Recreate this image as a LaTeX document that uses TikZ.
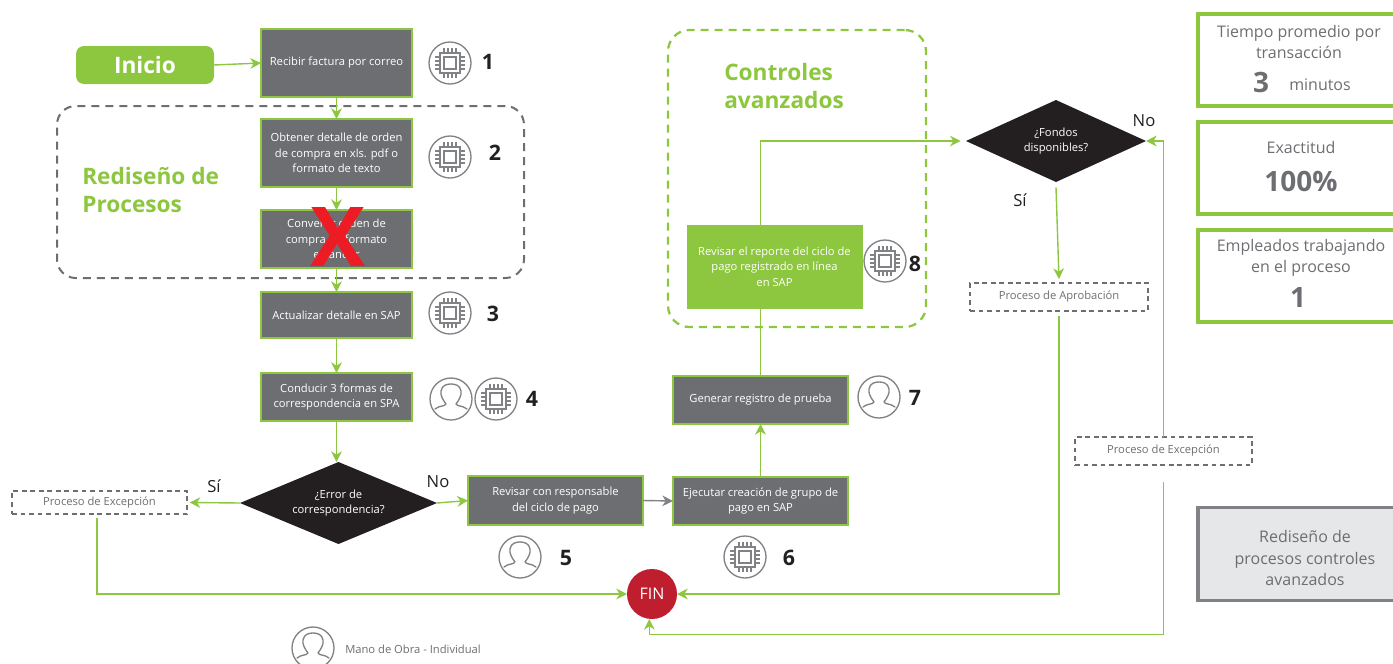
\documentclass[tikz,border=0pt]{standalone}
\usepackage{fontspec}
\setmainfont{Open Sans}
\usetikzlibrary{arrows.meta,shapes.geometric,calc}
\definecolor{lime}{HTML}{8DC63F}
\definecolor{slate}{HTML}{6D6E71}
\definecolor{ink}{HTML}{231F20}
\definecolor{dashgray}{HTML}{6D6E71}
\definecolor{iconstroke}{HTML}{808285}
\definecolor{softgray}{HTML}{E6E7E8}
\definecolor{FINred}{HTML}{BE1E2D}
\definecolor{crossred}{HTML}{ED1C24}
\newcommand{\fsz}[1]{\fontsize{#1}{#1}\selectfont}
\newcommand{\fszB}[2]{\fontsize{#1}{#2}\selectfont}
\tikzset{
  wh/.style 2 args={minimum width=#1*0.75pt,minimum height=#2*0.75pt,inner sep=0pt,outer sep=0pt},
  procbox/.style={rectangle,draw=lime,line width=2.2pt,fill=slate,text=white,align=center,font=\fszB{8.4}{11.6}},
  decision/.style={diamond,fill=ink,text=white,align=center,font=\fszB{8.4}{11.6},aspect=2.2,inner sep=0pt,outer sep=0pt},
  dashbox/.style={rectangle,draw=dashgray,line width=1.5pt,dash pattern=on 3.6pt off 2.8pt,text=slate,align=center,font=\fsz{8.4}},
  statbox/.style={rectangle,draw=lime,line width=2.6pt,text=slate,align=center},
  flow/.style={draw=lime,line width=1.05pt,-{Stealth[length=8pt,width=8pt,inset=2.5pt]}},
  plainflow/.style={draw=lime,line width=1.05pt},
  stepnum/.style={font=\fsz{16}\bfseries,text=ink,inner sep=0pt},
  answer/.style={font=\fsz{12.5},text=ink,inner sep=0pt},
  headline/.style={font=\fszB{17}{21}\bfseries,text=lime,align=left,inner sep=0pt},
  icondisc/.style={circle,draw=iconstroke,line width=1pt,fill=white,minimum size=31.5pt,inner sep=0pt},
  iconline/.style={draw=iconstroke,line width=0.8pt},
  chipicon/.pic={
    \node[icondisc] (-disc) at (0,0) {};
    \draw[iconline] (-10,-10) rectangle (10,10);
    \draw[iconline] (-6,-6) rectangle (6,6);
    \foreach \t in {-6,-2,2,6}{
      \draw[iconline] (\t,-10) -- (\t,-15);
      \draw[iconline] (\t,10) -- (\t,15);
      \draw[iconline] (-10,\t) -- (-15,\t);
      \draw[iconline] (10,\t) -- (15,\t);
    }
  },
  personicon/.pic={
    \node[icondisc] (-disc) at (0,0) {};
    \draw[iconline,line width=1pt,line cap=round,line join=round]
      (-16,10) .. controls (-11,6) and (-7,8) .. (-5,5)
      .. controls (-8,1) and (-11,-4) .. (-10,-8)
      .. controls (-9,-14) and (-4,-15) .. (0,-15)
      .. controls (4,-15) and (9,-14) .. (10,-8)
      .. controls (11,-4) and (8,1) .. (5,5)
      .. controls (7,8) and (11,6) .. (16,10);
  }
}
\begin{document}
\begin{tikzpicture}[x=0.75pt,y=-0.75pt]
\useasboundingbox (0,0) rectangle (1393,664);

% dashed regions
\node[rectangle,rounded corners=14pt,draw=dashgray,line width=1.5pt,dash pattern=on 6pt off 4.5pt,wh={467}{172}] (redesign) at (290.5,192) {};
\node[rectangle,rounded corners=16pt,draw=lime,line width=1.7pt,dash pattern=on 6pt off 4.5pt,wh={258}{297}] (controls) at (797,178.5) {};
\node[headline,anchor=north west] (redesigntext) at (82,167) {Rediseño de\\Procesos};
\node[headline,anchor=north west] (controlstext) at (724,63) {Controles\\avanzados};

% start
\node[rectangle,rounded corners=6pt,fill=lime,text=white,font=\fsz{17}\bfseries,wh={138}{38}] (start) at (145,65) {Inicio};

% left column
\node[procbox,wh={151}{68}] (recibir) at (336.5,63) {Recibir factura por correo};
\node[procbox,wh={151}{68}] (obtener) at (336.5,153) {Obtener detalle de orden\\de compra en xls. pdf o\\formato de texto};
\node[procbox,wh={151}{58}] (convertir) at (336.5,239) {Convertir orden de\\compra en formato\\estándar};
\node[procbox,wh={151}{46}] (actualizar) at (336.5,315) {Actualizar detalle en SAP};
\node[procbox,wh={151}{48}] (conducir) at (336.5,397) {Conducir 3 formas de\\correspondencia en SPA};
\node[decision,wh={197}{82}] (errordec) at (338.5,503) {¿Error de\\correspondencia?};
\node[dashbox,wh={175}{23}] (excleft) at (99.5,502.5) {Proceso de Excepción};

% bottom row
\node[procbox,wh={175}{49}] (revisar) at (555.5,500.5) {Revisar con responsable\\del ciclo de pago};
\node[procbox,wh={175}{48}] (ejecutar) at (760.5,501) {Ejecutar creación de grupo de\\pago en SAP};
\node[procbox,wh={175}{48}] (generar) at (760.5,400) {Generar registro de prueba};
\node[rectangle,fill=lime,draw=lime,text=white,align=center,font=\fszB{8.4}{11.6},wh={175}{83}] (reporte) at (774.5,266.5) {Revisar el reporte del ciclo de\\pago registrado en línea\\en SAP};

% right column
\node[decision,wh={180}{82}] (fondos) at (1056,141) {¿Fondos\\disponibles?};
\node[dashbox,wh={178}{28}] (aprob) at (1059,297) {Proceso de Aprobación};
\node[dashbox,wh={177}{28}] (excright) at (1163.5,451) {Proceso de Excepción};

% end
\node[circle,fill=FINred,text=white,font=\fsz{12},minimum size=37.5pt,inner sep=0pt,outer sep=0pt] (fin) at (652,594) {FIN};

% stats
\node[statbox,wh={200}{92},anchor=north west] (stat1) at (1198,14) {};
\node[statbox,wh={200}{92},anchor=north west] (stat2) at (1198,122) {};
\node[statbox,wh={200}{92},anchor=north west] (stat3) at (1198,230) {};
\node[rectangle,draw=iconstroke,fill=softgray,line width=2.6pt,text=slate,align=center,font=\fszB{12}{16.2},wh={200}{93},anchor=north west] (legendbox) at (1198,507.5) {};
\node[text=slate,align=center,font=\fszB{12}{16.2},inner sep=0pt] (legendtext) at (1305,558) {Rediseño de\\procesos controles\\avanzados};
\node[text=slate,align=center,font=\fszB{12}{16.2},inner sep=0pt] (t1) at (1299,42) {Tiempo promedio por\\transacción};
\node[text=slate,font=\fsz{21}\bfseries,inner sep=0pt] (t1n) at (1261,82) {3};
\node[text=slate,font=\fsz{12},inner sep=0pt] (t1u) at (1320,85) {minutos};
\node[text=slate,font=\fsz{12},inner sep=0pt] (t2) at (1301,147) {Exactitud};
\node[text=slate,font=\fsz{21}\bfseries,inner sep=0pt] (t2n) at (1301,181) {100\%};
\node[text=slate,align=center,font=\fszB{12}{16.2},inner sep=0pt] (t3) at (1301,258) {Empleados trabajando\\en el proceso};
\node[text=slate,font=\fsz{21}\bfseries,inner sep=0pt] (t3n) at (1298,298) {1};

% connectors
\draw[flow] (start.east) -- (recibir.west);
\draw[flow] (recibir.south) -- (obtener.north);
\draw[flow] (obtener.south) -- (convertir.north);
\draw[flow] (convertir.south) -- (actualizar.north);
\draw[flow] (actualizar.south) -- (conducir.north);
\draw[flow] (conducir.south) -- (conducir.south |- errordec.north);
\draw[flow] (errordec.west) -- ([xshift=2pt]excleft.east);
\draw[flow] (errordec.east) -- (revisar.west);
\draw[draw=iconstroke,line width=1.05pt,-{Stealth[length=8pt,width=8pt,inset=2.5pt]}] (revisar.east) -- (ejecutar.west);
\draw[flow] (ejecutar.north) -- (generar.south);
\draw[plainflow] (generar.north) -- (generar.north |- reporte.south);
\draw[flow] (reporte.north -| generar.north) |- ([xshift=-4pt]fondos.west);
\draw[flow] ([yshift=-4pt]fondos.south) -- ([yshift=3pt]aprob.north);
\coordinate (apstart) at ([yshift=-4pt]aprob.south);
\draw[flow] (apstart) |- (fin.east);
\coordinate (exlstart) at ([xshift=-2pt,yshift=-3pt]excleft.south);
\draw[flow] (exlstart) |- (fin.west);
\draw[flow] (excright.north) |- (fondos.east);
\coordinate (exrstart) at ([yshift=-13pt]excright.south);
\coordinate (finlow) at ([xshift=-2pt]fin.south);
\draw[flow] (exrstart) -- ++(0,152) -| (finlow);

% answers
\node[answer] (l1) at (214,486) {Sí};
\node[answer] (l2) at (438,482) {No};
\node[answer] (l3) at (1144,121) {No};
\node[answer] (l4) at (1020,200) {Sí};

% red cross
\node[text=crossred,font=\fontsize{62}{62}\selectfont\bfseries,inner sep=0pt] (cross) at (338,237) {X};

% icons
\pic (i1) at (450,63) {chipicon};
\pic (i2) at (450,157) {chipicon};
\pic (i3) at (450,313) {chipicon};
\pic (i4a) at (451,399) {personicon};
\pic (i4b) at (496,399) {chipicon};
\pic (i5) at (520,557) {personicon};
\pic (i6) at (745,557) {chipicon};
\pic (i7) at (879,397) {personicon};
\pic (i8) at (885,261) {chipicon};
\pic (i9) at (313,648) {personicon};

\node[stepnum] (n1) at (488,62) {1};
\node[stepnum] (n2) at (495,153) {2};
\node[stepnum] (n3) at (493,314) {3};
\node[stepnum] (n4) at (532,399) {4};
\node[stepnum] (n5) at (566,558) {5};
\node[stepnum] (n6) at (789,558) {6};
\node[stepnum] (n7) at (915,398) {7};
\node[stepnum] (n8) at (915,264) {8};

\node[text=slate,font=\fsz{8.4},anchor=west,inner sep=0pt] (legend) at (345,649) {Mano de Obra - Individual};
\end{tikzpicture}
\end{document}
